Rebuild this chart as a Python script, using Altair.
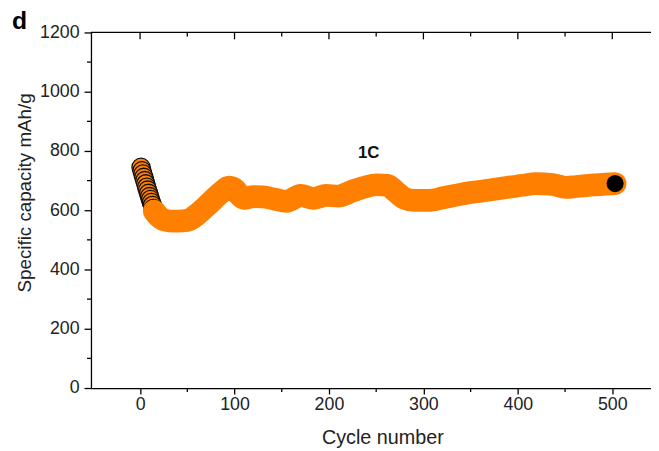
import altair as alt
import pandas as pd

# first cycles (drawn with dark outlines)
start_cycles = [1, 2, 3, 4, 5, 6, 7, 8, 9, 10, 11, 12, 13, 14, 15]
start_caps = [745, 733, 722, 711, 700, 689, 678, 668, 657, 646, 636, 626, 616, 606, 597]

# rest of the cycling curve
cycles = [15, 18, 22, 27, 35, 45, 52, 62, 74, 86, 94, 100, 105, 110, 120, 130, 142, 155,
          170, 184, 197, 210, 225, 238, 250, 262, 270, 280, 290, 305, 322, 350, 370, 388,
          405, 419, 437, 451, 462, 472, 493, 503]
caps = [597, 585, 573, 566, 563, 564, 568, 590, 625, 660, 678, 672, 652, 640, 646, 645, 638, 630,
        650, 640, 650, 648, 665, 678, 686, 684, 665, 640, 633, 633, 643, 660, 668, 677,
        684, 690, 687, 677, 680, 683, 688, 690]

last_cycle = [503]
last_cap = [690]

label_text = ["1C"]
label_x = [242]
label_y = [793]

x_major = [0, 100, 200, 300, 400, 500]
x_minor = [50, 150, 250, 350, 450]
y_major = [0, 200, 400, 600, 800, 1000, 1200]
y_minor = [100, 300, 500, 700, 900, 1100]

FONT = "Liberation Sans"
ORANGE = "#FF8000"
XDOM = [-52, 541]
YDOM = [0, 1200]

xs = alt.Scale(domain=XDOM, nice=False, zero=False)
ys = alt.Scale(domain=YDOM, nice=False)

df_start = pd.DataFrame({"cycle": start_cycles, "cap": start_caps})
df_line = pd.DataFrame({"cycle": cycles, "cap": caps, "order": list(range(len(cycles)))})
df_last = pd.DataFrame({"cycle": last_cycle, "cap": last_cap})
df_lab = pd.DataFrame({"t": label_text, "x": label_x, "y": label_y})
df_xmaj = pd.DataFrame({"v": x_major})
df_xmin = pd.DataFrame({"v": x_minor})
df_ymin = pd.DataFrame({"v": y_minor})

base_axes = alt.Chart(df_start).mark_point(opacity=0).encode(
    x=alt.X("cycle:Q", scale=xs, title="Cycle number",
            axis=alt.Axis(values=x_major, format="d", tickSize=6, labelPadding=2, grid=False,
                          labelFontSize=18, titleFontSize=20, titleFontWeight="normal",
                          titleY=56, titleBaseline="alphabetic", titleX=295)),
    y=alt.Y("cap:Q", scale=ys, title="Specific capacity mAh/g",
            axis=alt.Axis(values=y_major, format="d", tickSize=7, labelPadding=5, grid=False,
                          labelFontSize=18, titleFontSize=19, titleFontWeight="normal",
                          titleX=-61, titleY=162, titleBaseline="alphabetic", titleAngle=-90)),
)

top_line = alt.Chart(pd.DataFrame({"k": [0]})).mark_rule(strokeWidth=1.3, color="black").encode(
    x=alt.value(0), x2=alt.value(567), y=alt.value(0))

top_major = alt.Chart(df_xmaj).mark_rule(strokeWidth=1.3, color="black").encode(
    x=alt.X("v:Q", scale=xs), y=alt.value(0), y2=alt.value(7))

top_minor = alt.Chart(df_xmin).mark_rule(strokeWidth=1.3, color="black").encode(
    x=alt.X("v:Q", scale=xs), y=alt.value(0), y2=alt.value(4))

bot_minor = alt.Chart(df_xmin).mark_rule(strokeWidth=1.3, color="black").encode(
    x=alt.X("v:Q", scale=xs), y=alt.value(360), y2=alt.value(364))

left_minor = alt.Chart(df_ymin).mark_rule(strokeWidth=1.3, color="black").encode(
    y=alt.Y("v:Q", scale=ys), x=alt.value(-4), x2=alt.value(0))

start_pts = alt.Chart(df_start).mark_circle(
    size=340, color=ORANGE, opacity=1, stroke="#111", strokeWidth=1.3).encode(
    x=alt.X("cycle:Q", scale=xs), y=alt.Y("cap:Q", scale=ys))

band = alt.Chart(df_line).mark_line(
    color=ORANGE, strokeWidth=23, strokeCap="round", strokeJoin="round",
    interpolate="monotone").encode(
    x=alt.X("cycle:Q", scale=xs), y=alt.Y("cap:Q", scale=ys), order="order:Q")

last_pt = alt.Chart(df_last).mark_circle(size=300, color="black", opacity=1).encode(
    x=alt.X("cycle:Q", scale=xs), y=alt.Y("cap:Q", scale=ys))

lab = alt.Chart(df_lab).mark_text(font=FONT, fontSize=17, fontWeight="bold",
                                  color="#111", align="center", baseline="middle").encode(
    x=alt.X("x:Q", scale=xs), y=alt.Y("y:Q", scale=ys), text="t:N")

panel = alt.Chart(pd.DataFrame({"t": ["d"]})).mark_text(
    font=FONT, fontSize=25, fontWeight="bold", color="black",
    align="left", baseline="alphabetic").encode(
    x=alt.value(-80), y=alt.value(-3), text="t:N")

chart = alt.layer(
    base_axes, top_line, top_major, top_minor, bot_minor, left_minor,
    start_pts, band, last_pt, lab, panel
).properties(
    width=567, height=360,
    autosize=alt.AutoSizeParams(type="none"),
    padding={"left": 84, "top": 22, "right": 0, "bottom": 61},
    background="white",
).configure_view(stroke=None).configure_axis(
    labelFont=FONT, titleFont=FONT, labelColor="#222", titleColor="#222",
    domainColor="black", tickColor="black", domainWidth=1.3, tickWidth=1.3,
)

chart.save("out.html", embed_options={"renderer": "svg", "actions": False})
